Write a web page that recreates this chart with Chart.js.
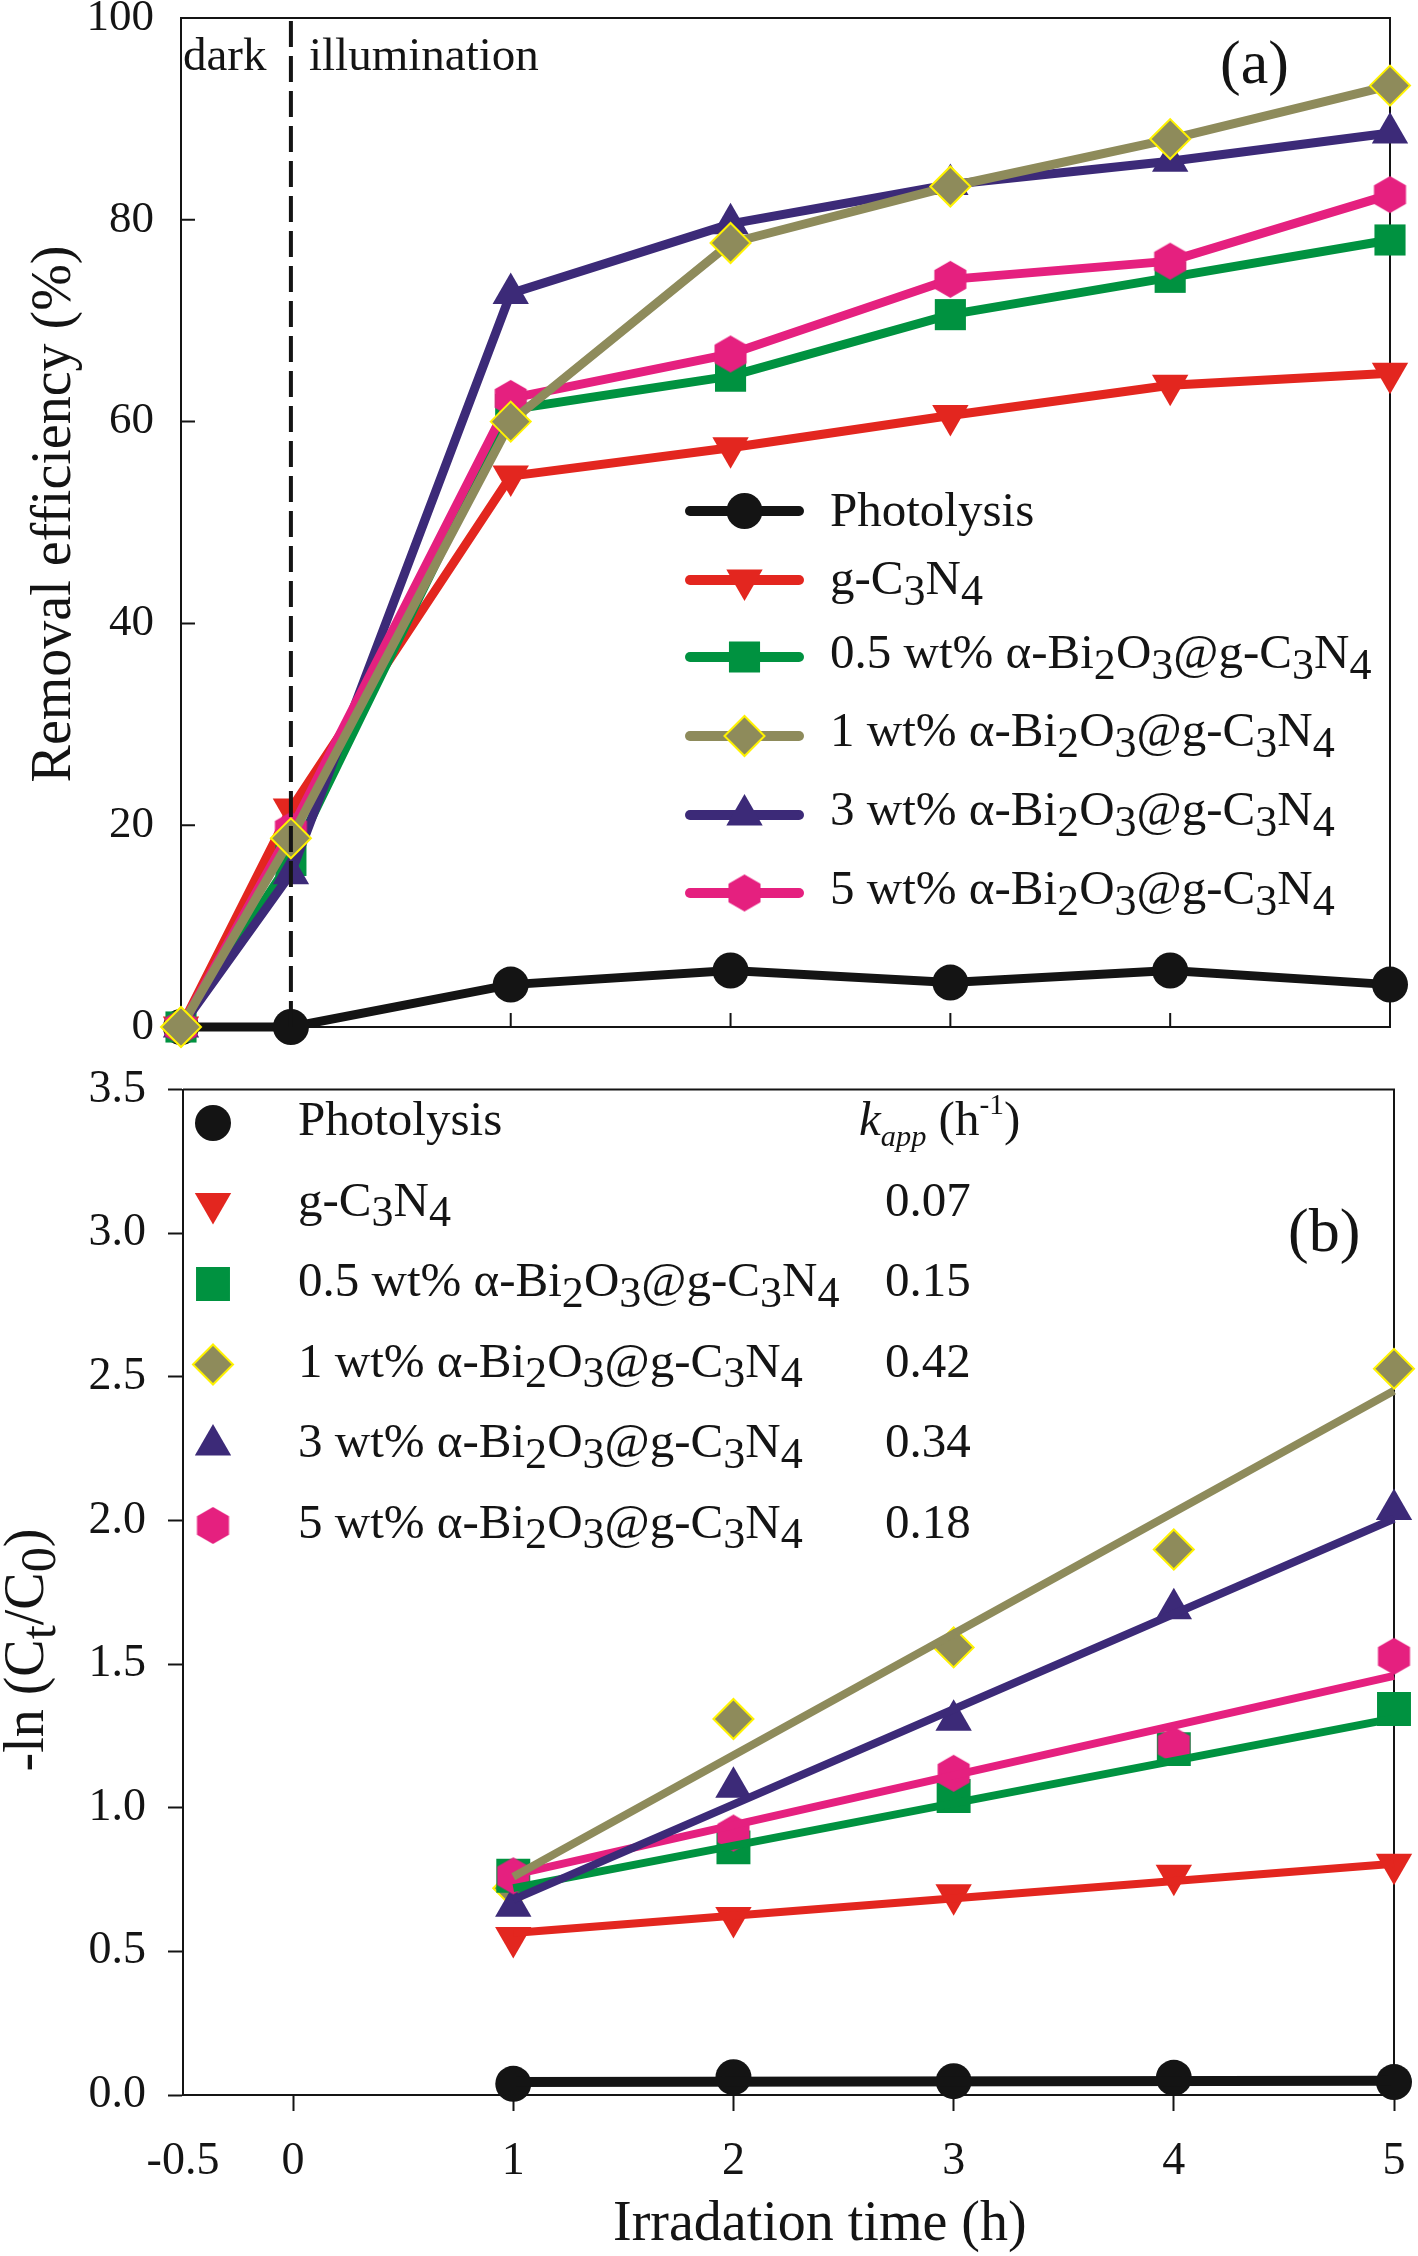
<!DOCTYPE html>
<html>
<head>
<meta charset="utf-8">
<title>Removal efficiency and pseudo-first-order kinetics</title>
<script src="https://cdn.jsdelivr.net/npm/chart.js@4.4.1/dist/chart.umd.min.js"></script>
<style>
  html, body { margin:0; padding:0; background:#ffffff; }
  body { width:1418px; height:2256px; position:relative; overflow:hidden; }
  .wrap { position:absolute; left:0; width:1418px; }
  #wrapA { top:-40px; height:1121px; }
  #wrapB { top:1040px; height:1216px; }
</style>
</head>
<body>
<div class="wrap" id="wrapA"><canvas id="chartA"></canvas></div>
<div class="wrap" id="wrapB"><canvas id="chartB"></canvas></div>
<script>
// ---------------- data ----------------
const seriesNames = ['Photolysis', 'g-C₃N₄', '0.5 wt% α-Bi₂O₃@g-C₃N₄', '1 wt% α-Bi₂O₃@g-C₃N₄', '3 wt% α-Bi₂O₃@g-C₃N₄', '5 wt% α-Bi₂O₃@g-C₃N₄'];

// panel (a): removal efficiency (%)
const timeA = [-0.5, 0, 1, 2, 3, 4, 5];
const removalPhotolysis = [0, 0, 4.2, 5.6, 4.4, 5.6, 4.2];
const removalGC3N4      = [0, 21.6, 54.6, 57.4, 60.6, 63.6, 64.8];
const removal05wt       = [0, 16.5, 61.2, 64.5, 70.6, 74.3, 78.0];
const removal1wt        = [0, 18.7, 60.0, 77.7, 83.3, 88.0, 93.3];
const removal3wt        = [0, 15.2, 72.7, 79.6, 83.5, 85.8, 88.6];
const removal5wt        = [0, 19.5, 62.3, 66.7, 74.1, 75.9, 82.5];
const darkLineX = [0, 0];
const darkLineY = [0, 100];

// panel (b): -ln(Ct/C0)
const timeB = [1, 2, 3, 4, 5];
const lnPhotolysis = [0.039, 0.062, 0.048, 0.060, 0.045];
const lnGC3N4      = [0.548, 0.618, 0.697, 0.765, 0.803];
const ln05wt       = [0.763, 0.862, 1.041, 1.204, 1.344];
const ln1wt        = [0.720, 1.309, 1.558, 1.899, 2.528];
const ln3wt        = [0.657, 1.071, 1.305, 1.693, 2.038];
const ln5wt        = [0.763, 0.912, 1.120, 1.218, 1.527];
// linear fits (end points)
const fitX = [1, 5];
const fitPhotolysis = [0.045, 0.050];
const fitGC3N4      = [0.564, 0.805];
const fit05wt       = [0.720, 1.311];
const fit1wt        = [0.760, 2.452];
const fit3wt        = [0.680, 2.006];
const fit5wt        = [0.766, 1.459];
const kApp = [null, 0.07, 0.15, 0.42, 0.34, 0.18];

// ticks & texts
const xTickValues = [-0.5, 0, 1, 2, 3, 4, 5];
const xTickLabels = ['-0.5', '0', '1', '2', '3', '4', '5'];
const yTickValuesA = [0, 20, 40, 60, 80, 100];
const yTickValuesB = [0, 0.5, 1, 1.5, 2, 2.5, 3, 3.5];
const titleYA = 'Removal efficiency (%)';
const titleYB = '-ln (Cₜ/C₀)';
const titleX = 'Irradation time (h)';
const phaseLabels = ['dark', 'illumination'];
const panelLabels = ['(a)', '(b)'];
const kHeader = [{t:'k', it:true}, {t:'app', it:true, sub:true, small:0.62}, {t:' (h'}, {t:'-1', sup:true}, {t:')'}];

// ---------------- styles ----------------
const FONT = '"Liberation Serif", "Times New Roman", "DejaVu Serif", serif';
const INK = '#141414';
const colors = ['#141414', '#E3261F', '#009240', '#8E8B5B', '#3C2A78', '#E5207F'];
const borders = [null, null, null, '#FFF200', null, null];
function makeHex(R, color) {
  const c = document.createElement('canvas');
  const w = Math.ceil(Math.sqrt(3) * R) + 2, h = Math.ceil(2 * R) + 2;
  c.width = w; c.height = h;
  const g = c.getContext('2d');
  g.fillStyle = color; g.beginPath();
  for (let k = 0; k < 6; k++) {
    const a = Math.PI / 2 + k * Math.PI / 3;
    const px = w / 2 + R * Math.cos(a), py = h / 2 - R * Math.sin(a);
    if (k) g.lineTo(px, py); else g.moveTo(px, py);
  }
  g.closePath(); g.fill();
  return c;
}
const hexImg = makeHex(18.5, colors[5]);
const pointStyles = ['circle', 'triangle', 'rect', 'rectRot', 'triangle', hexImg];
const rotations = [0, 180, 0, 0, 0, 0];
const radiiA = [18, 21, 22, 20, 21, 18];
const radiiB = [18, 21, 24, 20, 21, 18];

Chart.defaults.font.family = FONT;
Chart.defaults.color = INK;

function pts(xs, ys) { return xs.map((x, i) => ({x: x, y: ys[i]})); }

// ---------------- rich text helpers ----------------
const SUB = {'₀':'0','₁':'1','₂':'2','₃':'3','₄':'4','₅':'5','₆':'6','₇':'7','₈':'8','₉':'9','ₜ':'t'};
function parseRich(str) {
  const segs = [];
  for (const ch of str) {
    const sub = SUB[ch] !== undefined;
    const t = sub ? SUB[ch] : ch;
    const last = segs[segs.length - 1];
    if (last && !!last.sub === sub) last.t += t; else segs.push({t: t, sub: sub});
  }
  return segs;
}
function segFont(seg, size) {
  let s = size;
  if (seg.sub) s = size * (seg.small || 0.9);
  if (seg.sup) s = size * 0.6;
  return (seg.it ? 'italic ' : '') + s.toFixed(1) + 'px ' + FONT;
}
function drawRich(ctx, segs, x, y, size, align, rot) {
  ctx.save();
  ctx.translate(x, y);
  if (rot) ctx.rotate(rot * Math.PI / 180);
  ctx.textAlign = 'left';
  ctx.textBaseline = 'alphabetic';
  let total = 0;
  segs.forEach(s => { ctx.font = segFont(s, size); total += ctx.measureText(s.t).width; });
  let cx = align === 'center' ? -total / 2 : (align === 'right' ? -total : 0);
  segs.forEach(s => {
    ctx.font = segFont(s, size);
    const dy = s.sub ? 0.22 * size : (s.sup ? -0.42 * size : 0);
    ctx.fillText(s.t, cx, dy);
    cx += ctx.measureText(s.t).width;
  });
  ctx.restore();
}
function drawMarker(ctx, i, x, y, r) {
  const st = pointStyles[i];
  ctx.save();
  ctx.fillStyle = colors[i];
  if (st instanceof HTMLCanvasElement) {
    ctx.drawImage(st, x - st.width / 2, y - st.height / 2);
    ctx.restore(); return;
  }
  ctx.beginPath();
  if (st === 'circle') ctx.arc(x, y, r, 0, Math.PI * 2);
  else if (st === 'triangle') {
    const rad = rotations[i] * Math.PI / 180;
    for (let k = 0; k < 3; k++) {
      const a = rad + k * 2 * Math.PI / 3;
      const px = x + Math.sin(a) * r, py = y - Math.cos(a) * r;
      if (k) ctx.lineTo(px, py); else ctx.moveTo(px, py);
    }
    ctx.closePath();
  } else if (st === 'rect') {
    const s = r * Math.SQRT1_2; ctx.rect(x - s, y - s, 2 * s, 2 * s);
  } else if (st === 'rectRot') {
    ctx.moveTo(x - r, y); ctx.lineTo(x, y - r); ctx.lineTo(x + r, y); ctx.lineTo(x, y + r); ctx.closePath();
  }
  ctx.fill();
  if (borders[i]) { ctx.strokeStyle = borders[i]; ctx.lineWidth = 2; ctx.stroke(); }
  ctx.restore();
}

// frame (top/right box lines) + optional inward ticks
function framePlugin(innerTick) {
  return {
    id: 'frame',
    beforeDatasetsDraw(chart) {
      const {ctx, chartArea: a} = chart;
      ctx.save();
      ctx.strokeStyle = INK; ctx.lineWidth = 2; ctx.lineCap = 'butt';
      ctx.beginPath();
      ctx.moveTo(a.left, a.top); ctx.lineTo(a.right, a.top); ctx.lineTo(a.right, a.bottom);
      if (innerTick) {
        const ys = chart.scales.y, xs = chart.scales.x;
        ys.ticks.forEach(t => { const py = ys.getPixelForValue(t.value); ctx.moveTo(a.left, py); ctx.lineTo(a.left + innerTick, py); });
        xs.ticks.forEach(t => { if (t.value <= 0) return; const px = xs.getPixelForValue(t.value); ctx.moveTo(px, a.bottom); ctx.lineTo(px, a.bottom - innerTick); });
      }
      ctx.stroke();
      ctx.restore();
    }
  };
}
function noSidePadding(s) { s.paddingLeft = 0; s.paddingRight = 0; }

// ---------------- chart (a) ----------------
const OFF_A = 40;
const removalSeries = [removalPhotolysis, removalGC3N4, removal05wt, removal1wt, removal3wt, removal5wt];
const orderA = [5, 4, 3, 0, 2, 1];
const dsA = removalSeries.map((ys, i) => ({
  label: seriesNames[i],
  data: pts(timeA, ys),
  showLine: true,
  borderColor: colors[i],
  backgroundColor: colors[i],
  borderWidth: 9,
  pointStyle: pointStyles[i],
  pointRadius: radiiA[i],
  pointRotation: rotations[i],
  pointBackgroundColor: colors[i],
  pointBorderColor: borders[i] || colors[i],
  pointBorderWidth: borders[i] ? 2 : 0,
  order: orderA[i],
  clip: false
}));
dsA.push({
  label: 'dark | illumination',
  data: pts(darkLineX, darkLineY),
  showLine: true,
  borderColor: INK,
  borderWidth: 4,
  borderDash: [26, 9],
  pointRadius: 0,
  order: -1,
  clip: false
});

const legendLineYA = [511, 580, 657, 736, 815, 893];
const legendBaseA  = [526, 594, 668, 746, 825, 904];
const textPluginA = {
  id: 'textA',
  afterDraw(chart) {
    const ctx = chart.ctx;
    ctx.save();
    ctx.fillStyle = INK;
    drawRich(ctx, parseRich(titleYA), 70, 514 + OFF_A, 56, 'center', -90);
    drawRich(ctx, parseRich(phaseLabels[0]), 183, 69.5 + OFF_A, 47, 'left');
    drawRich(ctx, parseRich(phaseLabels[1]), 309, 69.5 + OFF_A, 47, 'left');
    drawRich(ctx, parseRich(panelLabels[0]), 1220, 83 + OFF_A, 62, 'left');
    seriesNames.forEach((name, i) => {
      const ly = legendLineYA[i] + OFF_A;
      ctx.save();
      ctx.strokeStyle = colors[i]; ctx.lineWidth = 10; ctx.lineCap = 'round';
      ctx.beginPath(); ctx.moveTo(690, ly); ctx.lineTo(799, ly); ctx.stroke();
      ctx.restore();
      drawMarker(ctx, i, 744.5, ly, radiiA[i]);
      ctx.fillStyle = INK;
      drawRich(ctx, parseRich(name), 830, legendBaseA[i] + OFF_A, 49, 'left');
    });
    ctx.restore();
  }
};

new Chart(document.getElementById('chartA'), {
  type: 'scatter',
  data: { datasets: dsA },
  options: {
    responsive: true, maintainAspectRatio: false, animation: false, events: [],
    layout: { padding: { top: 58, right: 28, bottom: 0, left: 0 } },
    plugins: { legend: { display: false }, tooltip: { enabled: false } },
    scales: {
      x: {
        type: 'linear', min: -0.5, max: 5,
        afterBuildTicks: s => { s.ticks = xTickValues.map(v => ({value: v})); },
        ticks: { display: false },
        grid: { display: true, drawOnChartArea: false, drawTicks: false },
        border: { display: true, color: INK, width: 2 },
        afterFit: s => { s.height = 45; noSidePadding(s); }
      },
      y: {
        type: 'linear', min: 0, max: 100,
        afterBuildTicks: s => { s.ticks = yTickValuesA.map(v => ({value: v})); },
        ticks: { font: { size: 45, family: FONT }, color: INK, padding: 27, callback: v => String(v) },
        grid: { display: true, drawOnChartArea: false, drawTicks: false },
        border: { display: true, color: INK, width: 2 },
        afterFit: s => { s.width = 181; }
      }
    }
  },
  plugins: [framePlugin(14), textPluginA]
});

// ---------------- chart (b) ----------------
const OFF_B = -1040;
const lnSeries = [lnPhotolysis, lnGC3N4, ln05wt, ln1wt, ln3wt, ln5wt];
const fitSeries = [fitPhotolysis, fitGC3N4, fit05wt, fit1wt, fit3wt, fit5wt];
const lineOrderB = [5, 4, 3, 0, 1, 2];
const markOrderB = [11, 10, 8, 9, 7, 6];
const dsB = [];
fitSeries.forEach((ys, i) => {
  dsB.push({
    label: seriesNames[i] + ' (linear fit)',
    data: pts(fitX, ys),
    showLine: true,
    borderColor: colors[i],
    borderWidth: i === 0 ? 10 : 8,
    pointRadius: 0,
    order: lineOrderB[i],
    clip: false
  });
});
lnSeries.forEach((ys, i) => {
  dsB.push({
    label: seriesNames[i],
    data: pts(timeB, ys),
    showLine: false,
    pointStyle: pointStyles[i],
    pointRadius: radiiB[i],
    pointRotation: rotations[i],
    pointBackgroundColor: colors[i],
    pointBorderColor: borders[i] || colors[i],
    pointBorderWidth: borders[i] ? 2 : 0,
    order: markOrderB[i],
    clip: false
  });
});

const legendBaseB = [1135, 1215.5, 1296, 1376.5, 1457, 1537.5];
const textPluginB = {
  id: 'textB',
  afterDraw(chart) {
    const ctx = chart.ctx;
    ctx.save();
    ctx.fillStyle = INK;
    drawRich(ctx, parseRich(titleYB), 43, 1650 + OFF_B, 56, 'center', -90);
    drawRich(ctx, parseRich(titleX), 613, 2240 + OFF_B, 56, 'left');
    drawRich(ctx, parseRich(panelLabels[1]), 1288, 1251 + OFF_B, 62, 'left');
    drawRich(ctx, kHeader, 859, legendBaseB[0] + OFF_B, 49, 'left');
    seriesNames.forEach((name, i) => {
      const base = legendBaseB[i] + OFF_B;
      drawMarker(ctx, i, 213, base - 12, radiiB[i]);
      ctx.fillStyle = INK;
      drawRich(ctx, parseRich(name), 298, base, 49, 'left');
      if (kApp[i] !== null) drawRich(ctx, parseRich(kApp[i].toFixed(2)), 885, base, 49, 'left');
    });
    ctx.restore();
  }
};

new Chart(document.getElementById('chartB'), {
  type: 'scatter',
  data: { datasets: dsB },
  options: {
    responsive: true, maintainAspectRatio: false, animation: false, events: [],
    layout: { padding: { top: 45, right: 24, bottom: 0, left: 0 } },
    plugins: { legend: { display: false }, tooltip: { enabled: false } },
    scales: {
      x: {
        type: 'linear', min: -0.5, max: 5,
        afterBuildTicks: s => { s.ticks = xTickValues.map(v => ({value: v})); },
        ticks: { font: { size: 46, family: FONT }, color: INK, padding: 23, autoSkip: false, maxRotation: 0,
                 callback: (v, i) => xTickLabels[i] },
        grid: { display: true, drawOnChartArea: false, drawTicks: true, tickLength: 16, tickWidth: 2,
                tickColor: c => (c.tick && c.tick.value === -0.5) ? 'rgba(0,0,0,0)' : INK },
        border: { display: true, color: INK, width: 2 },
        afterFit: s => { s.height = 161; noSidePadding(s); }
      },
      y: {
        type: 'linear', min: 0, max: 3.5,
        afterBuildTicks: s => { s.ticks = yTickValuesB.map(v => ({value: v})); },
        ticks: { font: { size: 46, family: FONT }, color: INK, padding: 22, callback: v => Number(v).toFixed(1) },
        grid: { display: true, drawOnChartArea: false, drawTicks: true, tickLength: 15, tickWidth: 2, tickColor: INK },
        border: { display: true, color: INK, width: 2 },
        afterFit: s => { s.width = 183; }
      }
    }
  },
  plugins: [framePlugin(0), textPluginB]
});
</script>
</body>
</html>
